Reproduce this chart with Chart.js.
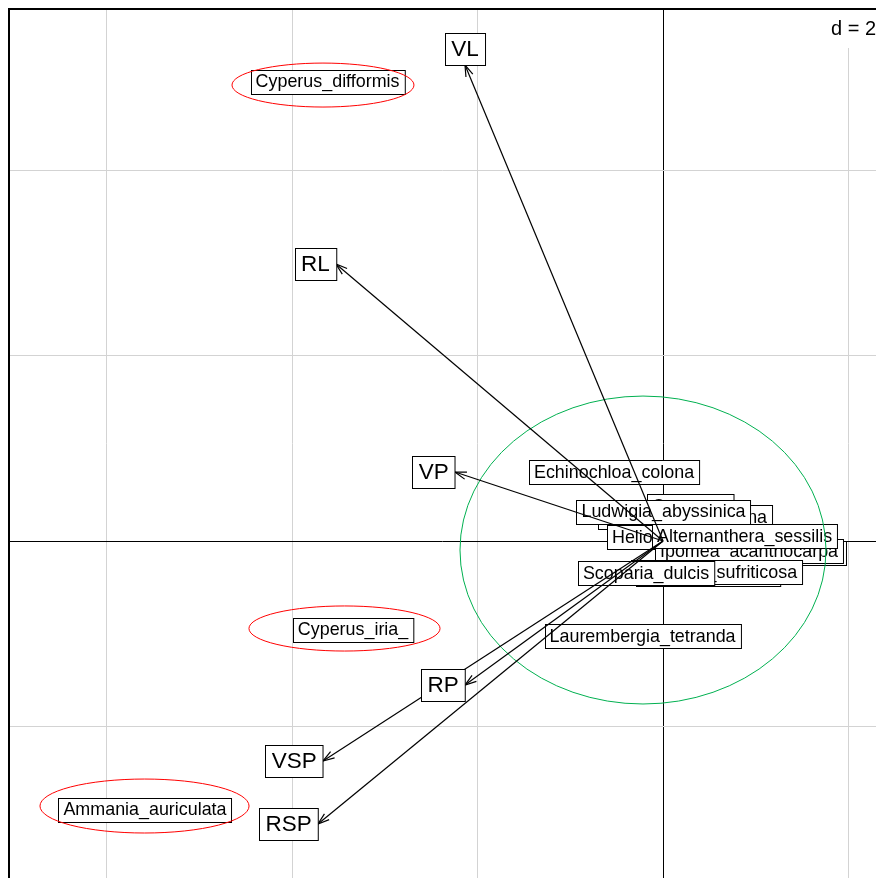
<!DOCTYPE html>
<html>
<head>
<meta charset="utf-8">
<script src="https://cdn.jsdelivr.net/npm/chart.js@4.4.1/dist/chart.umd.min.js"></script>
<style>
  html, body { margin: 0; padding: 0; background: #fff; }
  #wrap { width: 876px; height: 878px; }
</style>
</head>
<body>
<div id="wrap"><canvas id="biplot" width="876" height="878"></canvas></div>
<script>
// variables (arrows from origin)
const varNames = ["VL", "RL", "VP", "RP", "VSP", "RSP"];
const varX = [-2.135, -3.526, -2.243, -2.135, -3.666, -3.720];
const varY = [5.132, 2.987, 0.744, -1.553, -2.372, -3.051];

// species labels, in drawing order (later ones sit on top)
const spNames = [
  "Oryza_sp", "Sacciolepis_africana", "Heliotropium_indicum", "Fimbristylis_littoralis",
  "Ipomea_acanthocarpa", "Eclipta_prostrata", "Ludwigia_sufriticosa", "Scoparia_dulcis",
  "Ludwigia_abyssinica", "Alternanthera_sessilis", "Echinochloa_colona", "Laurembergia_tetranda",
  "Cyperus_difformis", "Cyperus_iria_", "Ammania_auriculata",
];
const spX = [0.291, 0.237, 0.377, 1.057, 0.927, 0.485, 0.577, -0.183, 0.005, 0.879, -0.528, -0.221, -3.617, -3.342, -5.585];
const spY = [0.380, 0.259, 0.048, -0.129, -0.108, -0.356, -0.334, -0.340, 0.318, 0.054, 0.744, -1.024, 4.954, -0.954, -2.895];

// group ellipses
const ellX = [-3.666, -3.434, -5.590, -0.216];
const ellY = [4.916, -0.943, -2.857, -0.097];
const ellRx = [0.981, 1.030, 1.127, 1.973];
const ellRy = [0.237, 0.243, 0.291, 1.660];
const ellColors = ["#ff0000", "#ff0000", "#ff0000", "#00b050"];

const xGrid = [-6, -4, -2, 0, 2];
const yGrid = [-2, 0, 2, 4];
const dGrid = 2;

const FONT = '"Liberation Sans", Arial, sans-serif';

function drawBox(ctx, text, cx, cy, h) {
  const w = ctx.measureText(" " + text + " ").width;
  const l = Math.round(cx - w / 2) + 0.5, t = Math.round(cy - h / 2) + 0.5;
  ctx.fillStyle = "#fff";
  ctx.fillRect(l, t, w, h);
  ctx.strokeStyle = "#000";
  ctx.lineWidth = 1;
  ctx.strokeRect(l, t, w, h);
  ctx.fillStyle = "#000";
  ctx.fillText(text, cx, cy + 1);
}

const biplotPlugin = {
  id: "biplot",
  beforeDatasetsDraw(chart) {
    const { ctx, scales: { x, y } } = chart;
    ctx.save();
    // species labels
    ctx.font = "17.9px " + FONT;
    ctx.textAlign = "center";
    ctx.textBaseline = "middle";
    spNames.forEach((name, i) => {
      drawBox(ctx, name, x.getPixelForValue(spX[i]), y.getPixelForValue(spY[i]), 24);
    });
    // ellipses
    ellX.forEach((ex, i) => {
      const cx = x.getPixelForValue(ex), cy = y.getPixelForValue(ellY[i]);
      const rx = Math.abs(x.getPixelForValue(ex + ellRx[i]) - cx);
      const ry = Math.abs(y.getPixelForValue(ellY[i] + ellRy[i]) - cy);
      ctx.beginPath();
      ctx.ellipse(cx, cy, rx, ry, 0, 0, Math.PI * 2);
      ctx.strokeStyle = ellColors[i];
      ctx.lineWidth = 1;
      ctx.stroke();
    });
    ctx.restore();
  },
  afterDatasetsDraw(chart) {
    const { ctx, scales: { x, y } } = chart;
    ctx.save();
    const ox = x.getPixelForValue(0), oy = y.getPixelForValue(0);
    // arrow heads
    ctx.strokeStyle = "#000";
    ctx.lineWidth = 1.2;
    varNames.forEach((n, i) => {
      const tx = x.getPixelForValue(varX[i]), ty = y.getPixelForValue(varY[i]);
      const a = Math.atan2(ty - oy, tx - ox);
      const len = 12, ang = 18 * Math.PI / 180;
      ctx.beginPath();
      ctx.moveTo(tx - len * Math.cos(a - ang), ty - len * Math.sin(a - ang));
      ctx.lineTo(tx, ty);
      ctx.lineTo(tx - len * Math.cos(a + ang), ty - len * Math.sin(a + ang));
      ctx.stroke();
    });
    // arrow labels
    ctx.font = "22.5px " + FONT;
    ctx.textAlign = "center";
    ctx.textBaseline = "middle";
    varNames.forEach((n, i) => {
      const tx = x.getPixelForValue(varX[i]), ty = y.getPixelForValue(varY[i]);
      const w = ctx.measureText(" " + n + " ").width, h = 32;
      let cx = tx, cy = ty;
      if (Math.abs(varX[i]) > Math.abs(varY[i])) cx += Math.sign(tx - ox) * w / 2;
      else cy += Math.sign(ty - oy) * h / 2;
      drawBox(ctx, n, cx, cy, h);
    });
    ctx.restore();
  },
  afterDraw(chart) {
    const { ctx, chartArea: a } = chart;
    ctx.save();
    // d = 2 box
    ctx.fillStyle = "#fff";
    ctx.fillRect(a.right - 54, a.top, 54, 39);
    ctx.fillStyle = "#000";
    ctx.font = "20px " + FONT;
    ctx.textAlign = "left";
    ctx.textBaseline = "alphabetic";
    ctx.fillText("d = " + dGrid, a.right - 45, a.top + 26);
    // frame
    ctx.strokeStyle = "#000";
    ctx.lineWidth = 2;
    ctx.strokeRect(a.left, a.top, a.right - a.left + 4, a.bottom - a.top + 4);
    ctx.restore();
  },
};

const gridColor = (c) => (c.tick && c.tick.value === 0 ? "#000" : "#d3d3d3");

new Chart(document.getElementById("biplot").getContext("2d"), {
  type: "scatter",
  data: {
    datasets: varNames.map((n, i) => ({
      label: n,
      data: [{ x: 0, y: 0 }, { x: varX[i], y: varY[i] }],
      showLine: true,
      borderColor: "#000",
      borderWidth: 1.2,
      pointRadius: 0,
      fill: false,
    })),
  },
  options: {
    responsive: false,
    animation: false,
    layout: { padding: { left: 9, top: 9, right: 0, bottom: 0 } },
    plugins: { legend: { display: false }, tooltip: { enabled: false } },
    scales: {
      x: {
        type: "linear",
        min: -7.051,
        max: 2.296,
        afterBuildTicks: (s) => { s.ticks = xGrid.map((v) => ({ value: v })); },
        afterFit: (s) => { s.height = 0; },
        ticks: { display: false },
        grid: { color: gridColor, lineWidth: 1, drawTicks: false },
        border: { display: false },
      },
      y: {
        type: "linear",
        min: -3.633,
        max: 5.736,
        afterBuildTicks: (s) => { s.ticks = yGrid.map((v) => ({ value: v })); },
        afterFit: (s) => { s.width = 0; },
        ticks: { display: false },
        grid: { color: gridColor, lineWidth: 1, drawTicks: false },
        border: { display: false },
      },
    },
  },
  plugins: [biplotPlugin],
});
</script>
</body>
</html>
